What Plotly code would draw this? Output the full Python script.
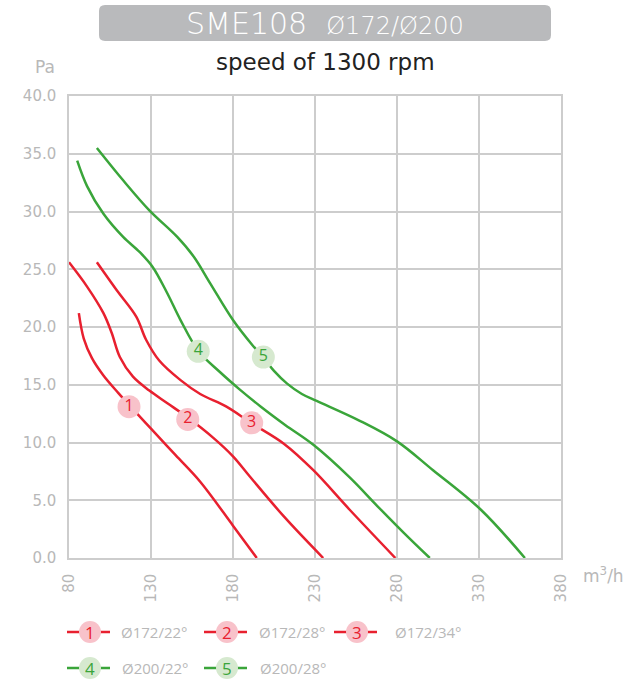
import plotly.graph_objects as go

# ---- data ----
x1 = [86, 89, 94, 101, 110, 117, 130, 145, 160, 180, 194.5]
y1 = [21.2, 19.0, 17.3, 15.8, 14.3, 13.2, 11.2, 8.9, 6.6, 2.8, 0.0]
x2 = [80, 91, 101, 106, 111, 119, 129, 140, 152, 168, 180, 190, 211, 235]
y2 = [25.6, 23.5, 21.2, 19.5, 17.4, 15.7, 14.5, 13.4, 12.2, 10.4, 8.8, 7.1, 3.6, 0.0]
x3 = [97, 109, 121, 127, 135, 148, 160, 176, 191, 211, 229, 251, 279]
y3 = [25.6, 23.2, 20.9, 18.9, 17.1, 15.4, 14.2, 13.1, 11.7, 9.9, 7.6, 4.2, 0.0]
x4 = [85, 91, 101, 113, 123, 131, 140, 148, 159, 172, 184, 197, 212, 229, 251, 268, 284, 300]
y4 = [34.4, 32.2, 29.8, 27.8, 26.5, 25.2, 22.9, 20.6, 17.9, 16.1, 14.6, 13.1, 11.5, 9.8, 7.0, 4.5, 2.2, 0.0]
x5 = [97, 113, 129, 146, 156, 166, 180, 192, 199, 205, 213, 222, 231, 257, 280, 302, 331, 358]
y5 = [35.5, 32.7, 30.1, 27.8, 26.1, 23.8, 20.6, 18.4, 17.3, 16.2, 15.1, 14.2, 13.6, 11.9, 10.1, 7.6, 4.2, 0.0]

series_names = ["Ø172/22°", "Ø172/28°", "Ø172/34°", "Ø200/22°", "Ø200/28°"]
label_x = [116.6, 152.4, 191.4, 158.8, 198.5]
label_y = [13.1, 12.0, 11.7, 17.9, 17.4]
x_ticks = [80, 130, 180, 230, 280, 330, 380]
y_ticks = [0, 5, 10, 15, 20, 25, 30, 35, 40]

RED = "#e8202f"
GREEN = "#3aa53a"
RED_BG = "#f8c2ca"
GREEN_BG = "#d6e9cf"
GRID = "#cdcdcd"
TXT = "#b8b8b8"
FONT = "DejaVu Sans"
LFONT = "Open Sans"

W, H = 632, 679
L, R, T, B = 69, 561, 96, 558  # plot area pixels

def px(x):
    return (x - L) / (R - L)

def py(y):
    return (B - y) / (B - T)

fig = go.Figure()
series = [(x1, y1, RED), (x2, y2, RED), (x3, y3, RED), (x4, y4, GREEN), (x5, y5, GREEN)]
for (xs, ys, c), nm in zip(series, series_names):
    fig.add_trace(go.Scatter(x=xs, y=ys, mode="lines", name=nm,
                             line=dict(color=c, width=2.5, shape="spline", smoothing=1.0),
                             showlegend=False, hoverinfo="skip"))

cols_bg = [RED_BG] * 3 + [GREEN_BG] * 2
cols_fg = [RED] * 3 + [GREEN] * 2
fig.add_trace(go.Scatter(x=label_x, y=label_y, mode="markers+text",
                         text=[str(i + 1) for i in range(5)],
                         textposition="middle center",
                         textfont=dict(color=cols_fg, size=16, family=LFONT),
                         marker=dict(size=23, color=cols_bg, line=dict(width=0)),
                         showlegend=False, hoverinfo="skip", cliponaxis=False))

shapes = []
annotations = []

# title box (rounded)
bx0, bx1, by0, by1, r = 99, 551, 5, 41, 6
def P(x, y):
    return f"{px(x):.5f},{py(y):.5f}"
path = (f"M {P(bx0 + r, by0)} L {P(bx1 - r, by0)} Q {P(bx1, by0)} {P(bx1, by0 + r)} "
        f"L {P(bx1, by1 - r)} Q {P(bx1, by1)} {P(bx1 - r, by1)} "
        f"L {P(bx0 + r, by1)} Q {P(bx0, by1)} {P(bx0, by1 - r)} "
        f"L {P(bx0, by0 + r)} Q {P(bx0, by0)} {P(bx0 + r, by0)} Z")
shapes.append(dict(type="path", xref="paper", yref="paper", path=path,
                   fillcolor="#b9babc", line=dict(width=0), layer="below"))
annotations.append(dict(xref="paper", yref="paper", x=px(325), y=py(23),
                        text="SME108  <span style='font-size:24px'>Ø172/Ø200</span>",
                        showarrow=False, font=dict(color="white", size=30, family=FONT, weight=200),
                        xanchor="center", yanchor="middle"))
annotations.append(dict(xref="paper", yref="paper", x=px(325), y=py(62),
                        text="speed of 1300 rpm", showarrow=False,
                        font=dict(color="#222222", size=23, family=FONT),
                        xanchor="center", yanchor="middle"))
annotations.append(dict(xref="paper", yref="paper", x=px(45), y=py(67),
                        text="Pa", showarrow=False,
                        font=dict(color=TXT, size=17, family=FONT),
                        xanchor="center", yanchor="middle"))
annotations.append(dict(xref="paper", yref="paper", x=px(581), y=py(575),
                        text="m<sup>3</sup>/h", showarrow=False,
                        font=dict(color=TXT, size=17, family=FONT),
                        xanchor="left", yanchor="middle"))

# legend (manual)
leg = [(67, 632, 0), (204, 632, 1), (334, 632, 2), (67, 668, 3), (204, 668, 4)]
text_off = [52, 53, 59, 53, 54]
for (lx, ly, i), toff in zip(leg, text_off):
    c = cols_fg[i]
    cx = lx + 23
    shapes.append(dict(type="line", xref="paper", yref="paper",
                       x0=px(lx), x1=px(lx + 43), y0=py(ly), y1=py(ly),
                       line=dict(color=c, width=2.5)))
    rr = 11
    shapes.append(dict(type="circle", xref="paper", yref="paper",
                       x0=px(cx - rr), x1=px(cx + rr), y0=py(ly - rr), y1=py(ly + rr),
                       fillcolor=cols_bg[i], line=dict(width=0)))
    annotations.append(dict(xref="paper", yref="paper", x=px(cx), y=py(ly),
                            text=str(i + 1), showarrow=False, height=18,
                            font=dict(color=c, size=17, family=LFONT),
                            xanchor="center", yanchor="middle"))
    annotations.append(dict(xref="paper", yref="paper", x=px(lx + toff), y=py(ly),
                            text=series_names[i], showarrow=False, height=18,
                            font=dict(color=TXT, size=15, family=LFONT),
                            xanchor="left", yanchor="middle"))

fig.update_layout(
    width=W, height=H,
    margin=dict(l=L, r=W - R, t=T, b=H - B, pad=0),
    paper_bgcolor="white", plot_bgcolor="white",
    shapes=shapes, annotations=annotations,
    xaxis=dict(range=[80, 380], tickvals=x_ticks, ticktext=[str(v) for v in x_ticks],
               tickangle=-90, showgrid=True, gridcolor=GRID, gridwidth=1.5,
               showline=True, mirror=True, linecolor=GRID, linewidth=1.5,
               zeroline=False, ticks="", ticklen=0, ticklabelstandoff=8,
               tickfont=dict(color=TXT, size=15, family=FONT)),
    yaxis=dict(range=[0, 40], tickvals=y_ticks, ticktext=[f"{v:.1f}" for v in y_ticks],
               showgrid=True, gridcolor=GRID, gridwidth=1.5,
               showline=True, mirror=True, linecolor=GRID, linewidth=1.5,
               zeroline=False, ticks="", ticklen=0, ticklabelstandoff=8,
               tickfont=dict(color=TXT, size=15, family=FONT)),
)

fig.write_html("out.html")
